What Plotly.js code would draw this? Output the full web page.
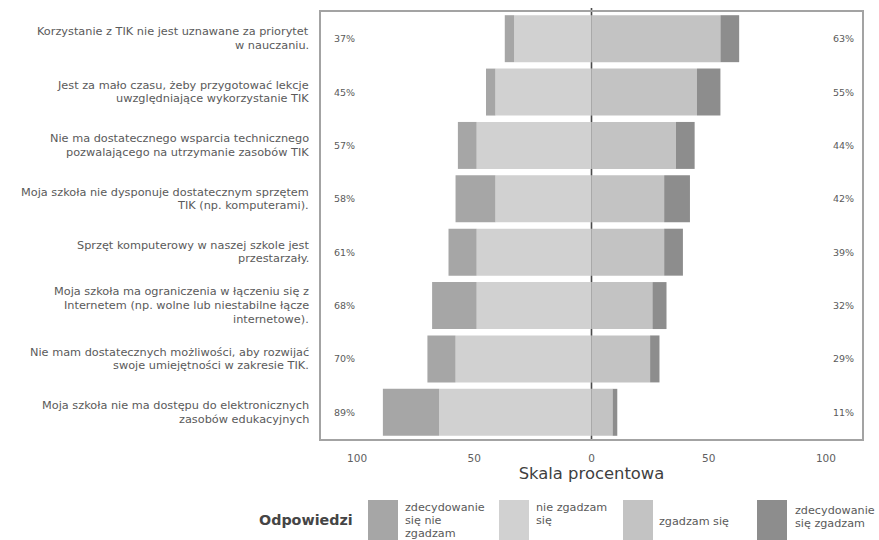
<!DOCTYPE html>
<html>
<head>
<meta charset="utf-8">
<script src="https://cdn.plot.ly/plotly-3.0.1.min.js"></script>
<style>
  html, body { margin: 0; padding: 0; background: #ffffff; }
  #chart { width: 879px; height: 540px; }
</style>
</head>
<body>
<div id="chart"></div>
<script>
// Statements (top to bottom); "\n" marks a line break in the label
const statements = [
  'Korzystanie z TIK nie jest uznawane za priorytet\nw nauczaniu.',
  'Jest za mało czasu, żeby przygotować lekcje\nuwzględniające wykorzystanie TIK',
  'Nie ma dostatecznego wsparcia technicznego\npozwalającego na utrzymanie zasobów TIK',
  'Moja szkoła nie dysponuje dostatecznym sprzętem\nTIK (np. komputerami).',
  'Sprzęt komputerowy w naszej szkole jest\nprzestarzały.',
  'Moja szkoła ma ograniczenia w łączeniu się z\nInternetem (np. wolne lub niestabilne łącze\ninternetowe).',
  'Nie mam dostatecznych możliwości, aby rozwijać\nswoje umiejętności w zakresie TIK.',
  'Moja szkoła nie ma dostępu do elektronicznych\nzasobów edukacyjnych'
];

// Answer shares in percent
const stronglyDisagree = [4, 4, 8, 17, 12, 19, 12, 24];
const disagree         = [33, 41, 49, 41, 49, 49, 58, 65];
const agree            = [55, 45, 36, 31, 31, 26, 25, 9];
const stronglyAgree    = [8, 10, 8, 11, 8, 6, 4, 2];

// Answer categories (legend order) and their fills
const answerNames  = ['zdecydowanie\nsię nie\nzgadzam', 'nie zgadzam\nsię', 'zgadzam się', 'zdecydowanie\nsię zgadzam'];
const answerColors = ['#a6a6a6', '#d1d1d1', '#c3c3c3', '#8d8d8d'];

// Axis ticks (distance from zero on both sides)
const xTickVals = [-100, -50, 0, 50, 100];
const xTickText = ['100', '50', '0', '50', '100'];

// ---- page geometry (pixels) ----
const PLOT_L = 321, PLOT_R = 862, PLOT_T = 12, PLOT_B = 439;
const W = 879, H = 540;
const px = v => (v - PLOT_L) / (PLOT_R - PLOT_L);
const py = v => (PLOT_B - v) / (PLOT_B - PLOT_T);

const FONT = 'DejaVu Sans, Verdana, sans-serif';
const textGrey = '#5a5a5a';

const neg = arr => arr.map(v => -v);

const traces = [
  { name: 'nie zgadzam się', x: neg(disagree), color: answerColors[1] },
  { name: 'zdecydowanie się nie zgadzam', x: neg(stronglyDisagree), color: answerColors[0] },
  { name: 'zgadzam się', x: agree, color: answerColors[2] },
  { name: 'zdecydowanie się zgadzam', x: stronglyAgree, color: answerColors[3] }
].map(t => ({
  type: 'bar',
  orientation: 'h',
  name: t.name,
  y: statements,
  x: t.x,
  marker: { color: t.color, line: { width: 0 } },
  hoverinfo: 'name+x',
  showlegend: false
}));

const annotations = [];
const shapes = [];

// helper: one annotation per text line, with fixed line spacing
function addLines(text, opts) {
  const lines = text.split('\n');
  const n = lines.length;
  lines.forEach((ln, i) => {
    const a = {
      text: ln,
      showarrow: false,
      xref: opts.xref, x: opts.x,
      yref: opts.yref, y: opts.y,
      xanchor: opts.xanchor, yanchor: 'middle',
      align: opts.xanchor,
      font: opts.font
    };
    const shift = opts.centered ? ((n - 1) / 2 - i) * opts.spacing : -i * opts.spacing;
    a.yshift = shift;
    annotations.push(a);
  });
}

// statement labels to the left of the plot
statements.forEach(s => {
  addLines(s, {
    xref: 'paper', x: px(311), yref: 'y', y: s, xanchor: 'right',
    centered: true, spacing: 13.6,
    font: { family: FONT, size: 11.3, color: textGrey }
  });
});

// total disagreement / agreement labels
statements.forEach((s, i) => {
  const neg = stronglyDisagree[i] + disagree[i];
  const pos = agree[i] + stronglyAgree[i];
  annotations.push({
    text: neg + '%', showarrow: false, xref: 'paper', x: px(332), yref: 'y', y: s,
    xanchor: 'left', yanchor: 'middle',
    font: { family: FONT, size: 9.5, color: textGrey }
  });
  annotations.push({
    text: pos + '%', showarrow: false, xref: 'paper', x: px(831), yref: 'y', y: s,
    xanchor: 'left', yanchor: 'middle',
    font: { family: FONT, size: 9.5, color: textGrey }
  });
});

// zero line (behind the bars)
shapes.push({
  type: 'line', layer: 'below', xref: 'x', x0: 0, x1: 0,
  yref: 'paper', y0: 0, y1: py(PLOT_T - 4),
  line: { color: '#4a4a4a', width: 1.6 }
});

// custom legend: title, swatches, labels
annotations.push({
  text: '<b>Odpowiedzi</b>', showarrow: false, xref: 'paper', yref: 'paper',
  x: px(355), y: py(520), xanchor: 'right', yanchor: 'middle',
  font: { family: FONT, size: 14.3, color: '#454545' }
});
const swatchX = [368, 499, 623, 757];
const labelX = [403, 534, 657, 793];
const labelTopY = [507, 507, 521, 510];
answerNames.forEach((nm, i) => {
  shapes.push({
    type: 'rect', xref: 'paper', yref: 'paper', layer: 'above',
    x0: px(swatchX[i]), x1: px(swatchX[i] + 30),
    y0: py(540), y1: py(500),
    fillcolor: answerColors[i], line: { width: 0 }
  });
  addLines(nm, {
    xref: 'paper', x: px(labelX[i]), yref: 'paper', y: py(labelTopY[i]), xanchor: 'left',
    centered: false, spacing: 13,
    font: { family: FONT, size: 11.2, color: textGrey }
  });
});

const layout = {
  width: W, height: H,
  margin: { l: PLOT_L, r: W - PLOT_R, t: PLOT_T, b: H - PLOT_B, pad: 0 },
  paper_bgcolor: '#ffffff',
  plot_bgcolor: '#ffffff',
  barmode: 'relative',
  bargap: 0.12,
  showlegend: false,
  xaxis: {
    range: [-115.4, 115.4],
    tickvals: xTickVals, ticktext: xTickText,
    ticks: '', ticklabelstandoff: 8,
    showgrid: false, zeroline: false,
    showline: true, mirror: true, linecolor: '#a3a3a3', linewidth: 2,
    tickfont: { family: FONT, size: 10.5, color: '#606060' },
    title: { text: 'Skala procentowa', standoff: 2,
             font: { family: FONT, size: 16.4, color: '#3f3f3f' } },
    automargin: false, fixedrange: true
  },
  yaxis: {
    type: 'category', autorange: 'reversed',
    showticklabels: false, ticks: '',
    showgrid: false, zeroline: false,
    showline: true, mirror: true, linecolor: '#a3a3a3', linewidth: 2,
    automargin: false, fixedrange: true
  },
  annotations: annotations,
  shapes: shapes
};

Plotly.newPlot('chart', traces, layout, { displayModeBar: false, staticPlot: true });
</script>
</body>
</html>
